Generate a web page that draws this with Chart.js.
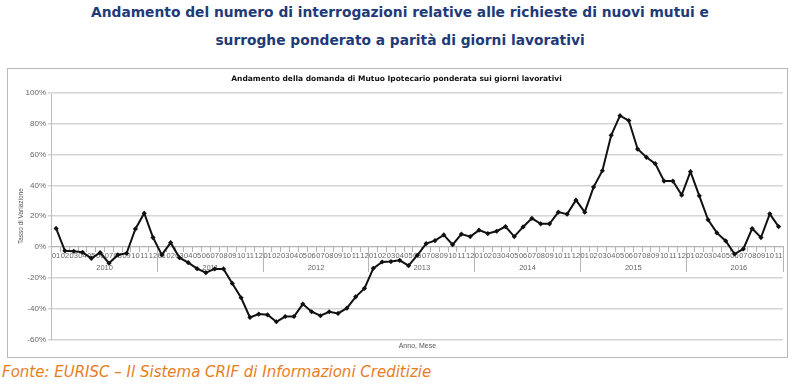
<!DOCTYPE html>
<html>
<head>
<meta charset="utf-8">
<script src="https://cdn.jsdelivr.net/npm/chart.js@4.4.1/dist/chart.umd.min.js"></script>
<style>
  body { margin: 0; width: 800px; height: 387px; background: #fff; position: relative; overflow: hidden; }
  #heading { position: absolute; left: 0; top: -2px; width: 800px; text-align: center; font-family: 'DejaVu Sans'; font-weight: bold; font-size: 13.8px; line-height: 28px; color: #1f3a78; }
  #box { position: absolute; left: 7px; top: 68px; width: 779px; height: 288px; border: 1px solid #b8b8b8; }
  #footer { position: absolute; left: 2px; top: 363px; font-family: 'DejaVu Sans'; font-style: italic; font-size: 15px; line-height: 18px; color: #e87d1e; }
</style>
</head>
<body>
<div id="heading">Andamento del numero di interrogazioni relative alle richieste di nuovi mutui e<br>surroghe ponderato a parità di giorni lavorativi</div>
<div id="box"><canvas id="myChart" width="779" height="288"></canvas></div>
<div id="footer">Fonte: EURISC – Il Sistema CRIF di Informazioni Creditizie</div>
<script>
// categories
const years = ['2010', '2011', '2012', '2013', '2014', '2015', '2016'];
const months = ['01', '02', '03', '04', '05', '06', '07', '08', '09', '10', '11', '12'];
const lastMonth2016 = 11;
// tasso di variazione (%), gen 2010 - nov 2016
const values = [
    12, -2.5, -2.8, -3.5, -7.4, -3.7, -10.6, -5.2, -4.1, 11.7, 21.9, 6.1,
    -5.2, 2.8, -7, -10.2, -14.1, -16.7, -14.3, -14.3, -23.7, -33, -45.8, -43.6,
    -44.1, -48.6, -45.2, -45.2, -37.1, -42.1, -44.7, -42.1, -43.2, -39.8, -32.4, -26.9,
    -13.9, -9.8, -9.5, -8.7, -12.2, -5.4, 2.2, 4.1, 7.8, 1.5, 8.3, 6.7,
    10.9, 8.7, 10.2, 13.2, 6.7, 13, 18.6, 15, 15, 22.6, 21.3, 30.4,
    22.6, 38.9, 49.5, 72.5, 85.3, 82.1, 63.6, 58.2, 54.1, 42.8, 42.8, 33.7,
    48.9, 33.2, 17.6, 9.1, 3.9, -4.6, -1.3, 11.9, 6.1, 21.5, 13.2
];
const yTicks = [-60, -40, -20, 0, 20, 40, 60, 80, 100];

// build month / year labels
let monthLabels = [];
let yearLabels = [];
years.forEach((y, i) => {
    let n = (i === years.length - 1) ? lastMonth2016 : 12;
    for (let m = 0; m < n; m++) {
        monthLabels.push(months[m]);
        yearLabels.push(y);
    }
});

const tickFont = { family: 'Liberation Sans', size: 7.5 };
const gridGray = '#d4d4d4';
const tickGray = '#666';

let ctx = document.getElementById('myChart').getContext('2d');
const data = {
    labels: monthLabels,
    datasets: [{
        label: 'Tasso di Variazione',
        data: values,
        borderColor: '#111',
        backgroundColor: '#111',
        borderWidth: 2,
        pointStyle: 'rectRot',
        pointRadius: 2.6,
        pointBorderWidth: 0,
        tension: 0,
        xAxisID: 'x',
        yAxisID: 'y'
    }]
};
const config = {
    type: 'line',
    data,
    options: {
        responsive: false,
        animation: false,
        layout: { padding: { left: 0, right: 2, top: 0, bottom: 0 } },
        plugins: {
            legend: { display: false },
            tooltip: { enabled: false },
            title: {
                display: true,
                text: 'Andamento della domanda di Mutuo Ipotecario ponderata sui giorni lavorativi',
                font: { family: 'DejaVu Sans', size: 7.5, weight: 'bold' },
                color: '#111',
                padding: { top: 5.5, bottom: 9.5 }
            }
        },
        scales: {
            y: {
                position: 'left',
                min: -60,
                max: 100,
                afterBuildTicks: s => { s.ticks = yTicks.map(v => ({ value: v })); },
                afterFit: s => { s.width = 43.7; },
                ticks: {
                    callback: v => v + '%',
                    font: { family: 'Liberation Sans', size: 8 },
                    color: tickGray,
                    padding: 1.7
                },
                grid: { color: gridGray, lineWidth: 1.5, tickLength: 4 },
                border: { color: '#bdbdbd', width: 1 },
                title: {
                    display: true,
                    text: 'Tasso di Variazione',
                    font: { family: 'Liberation Sans', size: 6.5 },
                    color: '#555',
                    padding: { top: 9.8, bottom: 0 }
                }
            },
            x: {
                type: 'category',
                position: { y: 0 },
                offset: true,
                ticks: {
                    autoSkip: false,
                    maxRotation: 0,
                    minRotation: 0,
                    font: tickFont,
                    color: tickGray,
                    padding: -1
                },
                grid: { offset: true, drawOnChartArea: false, tickLength: 5, color: '#b5b5b5', lineWidth: 1 },
                border: { color: '#b5b5b5', width: 1 }
            },
            x2: {
                type: 'category',
                labels: yearLabels,
                position: { y: 0 },
                offset: true,
                ticks: {
                    autoSkip: false,
                    maxRotation: 0,
                    minRotation: 0,
                    font: tickFont,
                    color: tickGray,
                    padding: -8.5,
                    labelOffset: -4.4,
                    callback: (v, i) => monthLabels[i] === '07' ? yearLabels[i] : ''
                },
                grid: {
                    offset: true,
                    drawOnChartArea: false,
                    tickLength: 25,
                    lineWidth: 1,
                    color: c => (c.index === undefined || c.index % 12 === 0) ? '#b5b5b5' : 'rgba(0,0,0,0)'
                },
                border: { display: false }
            },
            xt: {
                type: 'category',
                labels: monthLabels,
                position: 'bottom',
                afterFit: s => { s.height = 17.7; },
                ticks: { display: false },
                grid: { display: false },
                border: { display: false },
                title: {
                    display: true,
                    text: 'Anno, Mese',
                    font: { family: 'Liberation Sans', size: 7 },
                    color: '#555',
                    padding: { top: 0, bottom: 7.1 }
                }
            }
        }
    }
};
let chart = new Chart(ctx, config);
</script>
</body>
</html>
